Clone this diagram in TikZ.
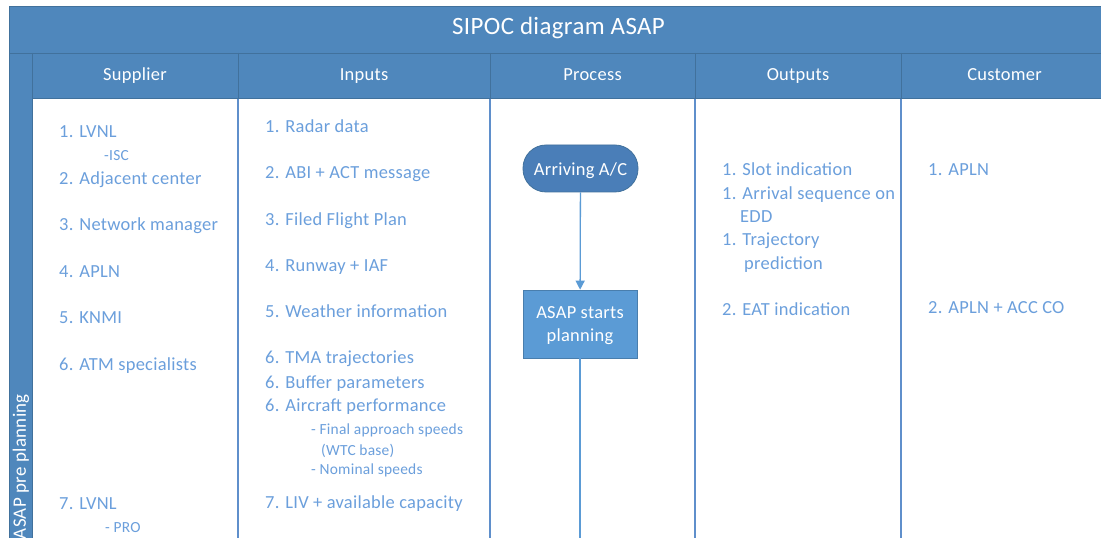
\documentclass[tikz,border=0pt]{standalone}
\usepackage{fontspec}
\setmainfont{Carlito}[LetterSpace=1.5]
\usetikzlibrary{arrows.meta}

\definecolor{laneblue}{HTML}{4F87BC}
\definecolor{laneedge}{HTML}{41719C}
\definecolor{itemblue}{HTML}{6B9FDC}
\definecolor{flowblue}{HTML}{5B9BD5}
\definecolor{termblue}{HTML}{4A7EB8}
\definecolor{divblue}{HTML}{5F8FCB}

\begin{document}
\begin{tikzpicture}[x=1bp,y=-1bp,
  item/.style={anchor=base west, inner sep=0pt, text=itemblue,
    font=\fontsize{18.5}{22}\selectfont},
  subitem/.style={item, font=\fontsize{15.5}{18}\selectfont},
  colhead/.style={inner sep=0pt, text=white, text height=13bp, text depth=4bp,
    font=\fontsize{18.5}{22}\selectfont},
  divider/.style={divblue, line width=1.3bp},
  headline/.style={laneedge, line width=0.8bp},
  terminal/.style={draw=laneedge, fill=termblue, line width=0.8bp,
    rounded corners=23bp, minimum width=115bp, minimum height=47bp,
    text height=15bp, text depth=0bp,
    text=white, font=\fontsize{18.5}{22}\selectfont},
  stepbox/.style={draw=laneedge!70!flowblue, fill=flowblue, line width=0.6bp,
    minimum width=114bp, minimum height=68bp, align=center, text depth=-1bp,
    text=white, font=\fontsize{18.5}{23}\selectfont},
  flow/.style={flowblue, line width=1.3bp}
]
\useasboundingbox (0,0) rectangle (1101,538);
\clip (0,0) rectangle (1101,538);

% swimlane frame, title band and header row
\fill[white] (0,0) rectangle (1101,538);
\fill[laneblue] (9,6) rectangle (1108,560);
\draw[headline] (9,6) rectangle (1108,560);
\fill[white] (32,98) rectangle (1108,560);
\draw[headline] (9,53) -- (1108,53);
\draw[headline] (32,53) -- (32,560);
\draw[headline] (32,98) -- (1108,98);
\foreach \xx in {238,490,695,901} \draw[headline] (\xx,53) -- (\xx,98);

\node[colhead, text height=17bp, text depth=5bp, font=\fontsize{25}{30}\selectfont]
  (title) at (558.5,28.5) {SIPOC diagram ASAP};

\node[colhead] (hS) at (135,76) {Supplier};
\node[colhead] (hI) at (364,76) {Inputs};
\node[colhead] (hP) at (592.5,76) {Process};
\node[colhead] (hO) at (798,76) {Outputs};
\node[colhead] (hC) at (1004.5,76) {Customer};

\node[rotate=90, anchor=east, inner sep=0pt, text=white,
  font=\fontsize{19}{22}\selectfont] (lane) at (21,394) {ASAP pre planning};

% column dividers in the lane body
\foreach \xx in {238,490,695,901} \draw[divider] (\xx,99) -- (\xx,560);

% Supplier
\node[item] (s1) at (59,137.5) {1. LVNL};
\node[subitem] (s1a) at (104,161) {-ISC};
\node[item] (s2) at (59,184.5) {2. Adjacent center};
\node[item] (s3) at (59,231) {3. Network manager};
\node[item] (s4) at (59,277.5) {4. APLN};
\node[item] (s5) at (59,324) {5. KNMI};
\node[item] (s6) at (59,370.5) {6. ATM specialists};
\node[item] (s7) at (59,509.5) {7. LVNL};
\node[subitem] (s7a) at (105,532) {- PRO};

% Inputs
\node[item] (i1) at (265,132.5) {1. Radar data};
\node[item] (i2) at (265,179) {2. ABI + ACT message};
\node[item] (i3) at (265,225.5) {3. Filed Flight Plan};
\node[item] (i4) at (265,272) {4. Runway + IAF};
\node[item] (i5) at (265,318) {5. Weather information};
\node[item] (i6) at (265,364) {6. TMA trajectories};
\node[item] (i7) at (265,388) {6. Buffer parameters};
\node[item] (i8) at (265,411.5) {6. Aircraft performance};
\node[subitem] (i8a) at (311,434) {- Final approach speeds};
\node[subitem] (i8b) at (321,455) {(WTC base)};
\node[subitem] (i8c) at (311,474) {- Nominal speeds};
\node[item] (i9) at (265,508.5) {7. LIV + available capacity};

% Process
\node[terminal] (arr) at (580.5,168.5) {Arriving A/C};
\node[stepbox] (plan) at (580,324) {ASAP starts\\planning};
\coordinate (flowend) at (580,560);
\draw[flow, -{Triangle[width=9bp,length=9bp]}] (arr) -- (plan);
\draw[flow] (plan) -- (flowend);

% Outputs
\node[item] (o1) at (722,175.5) {1. Slot indication};
\node[item] (o2) at (722,199.5) {1. Arrival sequence on};
\node[item] (o2a) at (740,222.5) {EDD};
\node[item] (o3) at (722,245.5) {1. Trajectory};
\node[item] (o3a) at (744,269.5) {prediction};
\node[item] (o4) at (722,315.5) {2. EAT indication};

% Customer
\node[item] (c1) at (928,175.5) {1. APLN};
\node[item] (c2) at (928,313.5) {2. APLN + ACC CO};
\end{tikzpicture}
\end{document}
